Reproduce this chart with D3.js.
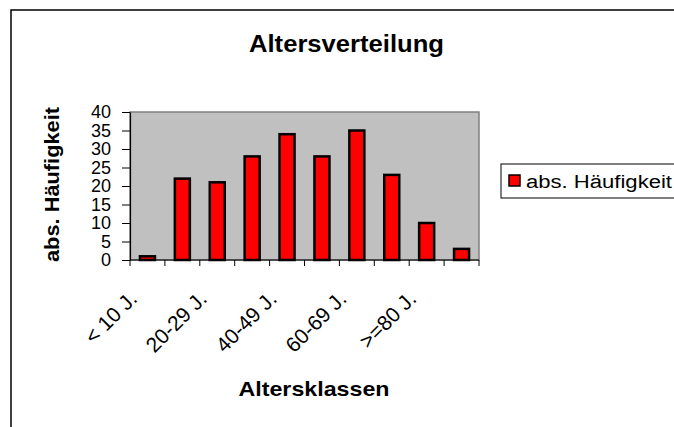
<!DOCTYPE html>
<html>
<head>
<meta charset="utf-8">
<script src="https://cdn.jsdelivr.net/npm/d3@7"></script>
<style>
  body { margin: 0; background: #fff; }
  svg { font-family: Arial, "Liberation Sans", sans-serif; }
</style>
</head>
<body>
<div id="chart"></div>
<script>
// data
const categories = ["< 10 J.", "10-19 J.", "20-29 J.", "30-39 J.", "40-49 J.",
                    "50-59 J.", "60-69 J.", "70-79 J.", ">=80 J.", "o. A."];
const counts = [1, 22, 21, 28, 34, 28, 35, 23, 10, 3];
const yTicks = [0, 5, 10, 15, 20, 25, 30, 35, 40];
const seriesName = "abs. Häufigkeit";

const width = 674, height = 427;
const plot = { left: 130, right: 479, top: 112, bottom: 260 };

const svg = d3.select("#chart").append("svg")
    .attr("width", width)
    .attr("height", height);

// outer chart frame (only left/top visible in the picture)
svg.append("rect")
    .attr("x", 11).attr("y", 10)
    .attr("width", 700).attr("height", 450)
    .attr("fill", "#fff")
    .attr("stroke", "#000")
    .attr("stroke-width", 1.5);

svg.append("text")
    .attr("x", 346.5).attr("y", 52)
    .attr("text-anchor", "middle")
    .attr("font-size", 23)
    .attr("font-weight", "bold")
    .attr("textLength", 195)
    .attr("lengthAdjust", "spacingAndGlyphs")
    .text("Altersverteilung");

const x = d3.scaleBand()
    .domain(categories)
    .range([plot.left, plot.right])
    .paddingInner(0.57)
    .paddingOuter(0.285);

const xb = d3.scaleBand()
    .domain(categories)
    .range([plot.left, plot.right]);

const y = d3.scaleLinear()
    .domain([0, 40])
    .range([plot.bottom, plot.top]);

// plot area
svg.append("rect")
    .attr("x", plot.left).attr("y", plot.top)
    .attr("width", plot.right - plot.left)
    .attr("height", plot.bottom - plot.top)
    .attr("fill", "#c0c0c0")
    .attr("stroke", "#808080")
    .attr("stroke-width", 1.5);

svg.append("g")
    .selectAll("rect")
    .data(counts)
    .join("rect")
    .attr("x", (d, i) => x(categories[i]))
    .attr("y", d => y(d))
    .attr("width", x.bandwidth())
    .attr("height", d => y(0) - y(d))
    .attr("fill", "#ff0000")
    .attr("stroke", "#000")
    .attr("stroke-width", 2.5);

// y axis
const yAxis = svg.append("g")
    .attr("transform", `translate(${plot.left},0)`)
    .call(d3.axisLeft(y).tickValues(yTicks).tickSize(8).tickPadding(11).tickSizeOuter(0));
yAxis.selectAll("text").attr("font-size", 18).attr("fill", "#000").attr("dy", "0.33em");
yAxis.select(".domain").attr("stroke", "#000").attr("stroke-width", 1.2);

// x axis: ticks at category boundaries
const bounds = categories.map(c => xb(c)).concat([plot.right]);
const xAxis = svg.append("g");
xAxis.append("line")
    .attr("x1", plot.left).attr("x2", plot.right)
    .attr("y1", plot.bottom).attr("y2", plot.bottom)
    .attr("stroke", "#000").attr("stroke-width", 1.2);
xAxis.selectAll("line.tick")
    .data(bounds)
    .join("line")
    .attr("class", "tick")
    .attr("x1", d => d).attr("x2", d => d)
    .attr("y1", plot.bottom).attr("y2", plot.bottom + 6)
    .attr("stroke", "#000");

xAxis.selectAll("text")
    .data(categories.filter((c, i) => i % 2 === 0))
    .join("text")
    .attr("transform", d => `translate(${xb(d) + xb.bandwidth() / 2 - 9},300) rotate(-45)`)
    .attr("text-anchor", "end")
    .attr("font-size", 21)
    .text(d => d);

svg.append("text")
    .attr("x", 314).attr("y", 396)
    .attr("text-anchor", "middle")
    .attr("font-size", 21)
    .attr("font-weight", "bold")
    .attr("textLength", 151)
    .attr("lengthAdjust", "spacingAndGlyphs")
    .text("Altersklassen");

svg.append("text")
    .attr("transform", "translate(59,184.5) rotate(-90)")
    .attr("text-anchor", "middle")
    .attr("font-size", 19.5)
    .attr("font-weight", "bold")
    .attr("textLength", 155)
    .attr("lengthAdjust", "spacingAndGlyphs")
    .text(seriesName);

// legend
const legend = svg.append("g");
legend.append("rect")
    .attr("x", 501).attr("y", 164)
    .attr("width", 190).attr("height", 34)
    .attr("fill", "#fff")
    .attr("stroke", "#000");
legend.append("rect")
    .attr("x", 509).attr("y", 175)
    .attr("width", 11).attr("height", 11)
    .attr("fill", "#ff0000")
    .attr("stroke", "#000")
    .attr("stroke-width", 1.5);
legend.append("text")
    .attr("x", 526).attr("y", 187.5)
    .attr("font-size", 18)
    .attr("textLength", 146)
    .attr("lengthAdjust", "spacingAndGlyphs")
    .text(seriesName);
</script>
</body>
</html>
